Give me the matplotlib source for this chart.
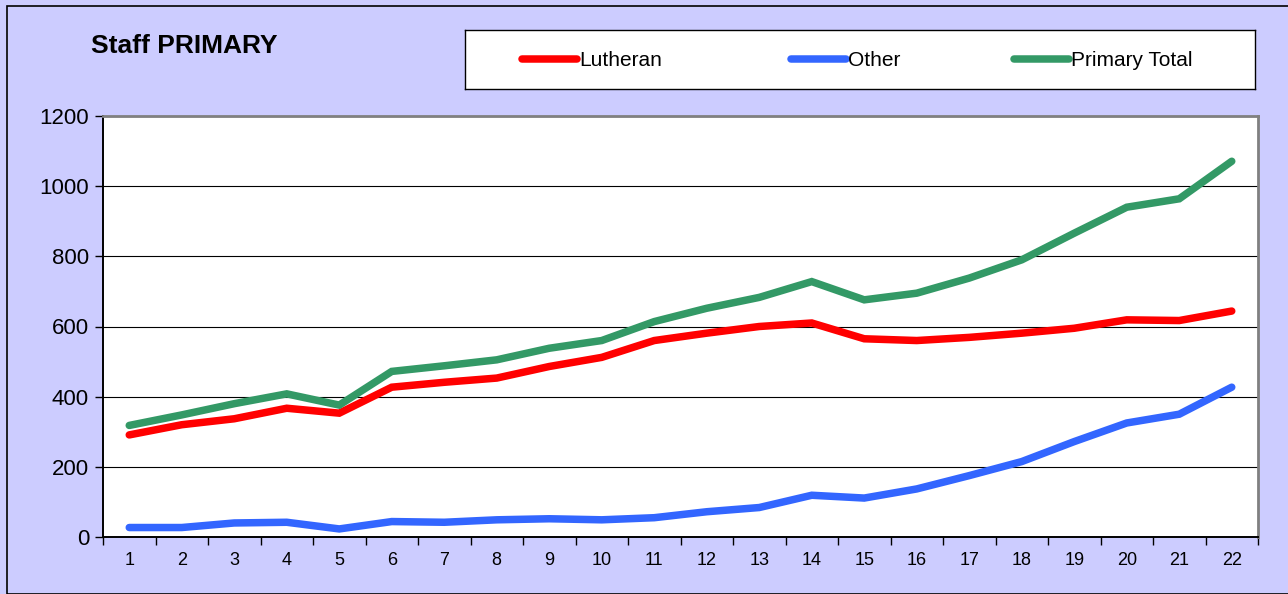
import matplotlib
matplotlib.use("Agg")
import matplotlib.pyplot as plt
from matplotlib.patches import Rectangle
import numpy as np

plt.rcParams['font.family'] = ['Liberation Sans', 'DejaVu Sans']

# Data
periods = list(range(1, 23))
lutheran = [291, 320, 337, 367, 353, 427, 441, 453, 486, 512, 560,
            581, 600, 610, 565, 560, 569, 581, 595, 619, 617, 644]
other = [27, 27, 40, 42, 23, 44, 42, 49, 52, 49, 55,
         72, 84, 119, 111, 137, 175, 215, 272, 325, 350, 427]
primary_total = [318, 348, 380, 408, 376, 472, 488, 505, 538, 560, 614,
                 652, 683, 728, 676, 695, 738, 790, 866, 940, 964, 1071]
series_names = ["Lutheran", "Other", "Primary Total"]
series_colors = ["#FF0000", "#3366FF", "#339966"]
y_ticks = [0, 200, 400, 600, 800, 1000, 1200]
title = "Staff PRIMARY"

W, H = 1288, 594
fig = plt.figure(figsize=(W / 100, H / 100), dpi=100)
fig.patch.set_facecolor("#CCCCFF")

# Outer chart border
fig.add_artist(Rectangle((7 / W, 0), 2, 1 - 6 / H, transform=fig.transFigure,
                         fill=False, edgecolor="black", linewidth=1.2))


def fig_rect(x0, y0, x1, y1):
    return [x0 / W, 1 - y1 / H, (x1 - x0) / W, (y1 - y0) / H]


ax = fig.add_axes(fig_rect(103, 116, 1258, 537))
ax.set_facecolor("white")

x = np.array(periods)
for vals, col in zip([lutheran, other, primary_total], series_colors):
    ax.plot(x, vals, color=col, linewidth=5.4, solid_capstyle="round",
            solid_joinstyle="miter", zorder=3)

ax.set_xlim(0.5, len(periods) + 0.5)
ax.set_ylim(0, 1200)
ax.set_yticks(y_ticks)
ax.set_yticklabels([str(v) for v in y_ticks], fontsize=16)
ax.set_xticks(x)
ax.set_xticklabels([str(p) for p in periods], fontsize=13)
ax.set_xticks(np.arange(0.5, len(periods) + 1, 1), minor=True)
ax.tick_params(axis="x", which="major", length=0, pad=11)
ax.tick_params(axis="x", which="minor", length=6, width=1.0, direction="out")
ax.tick_params(axis="y", which="major", length=6, width=1.0, direction="out", pad=4)

ax.grid(axis="y", color="black", linewidth=0.8)
ax.set_axisbelow(True)

for side in ["left", "bottom"]:
    ax.spines[side].set_color("black")
    ax.spines[side].set_linewidth(1.4)
for side in ["top", "right"]:
    ax.spines[side].set_color("#808080")
    ax.spines[side].set_linewidth(2.0)

fig.text(91 / W, 1 - 46 / H, title, fontsize=19, fontweight="bold",
         ha="left", va="center")

# Legend box
lax = fig.add_axes(fig_rect(465, 30, 1255, 89))
lax.set_xlim(465, 1255)
lax.set_ylim(89, 30)
lax.set_xticks([])
lax.set_yticks([])
lax.set_facecolor("white")
for s in lax.spines.values():
    s.set_color("black")
    s.set_linewidth(1.0)
starts = [522, 791, 1014]
for name, col, sx in zip(series_names, series_colors, starts):
    lax.plot([sx, sx + 55], [59, 59], color=col, linewidth=5.4,
             solid_capstyle="round")
    lax.text(sx + 57, 60, name, fontsize=15, ha="left", va="center")

fig.savefig("out.png", dpi=100, facecolor=fig.get_facecolor())
